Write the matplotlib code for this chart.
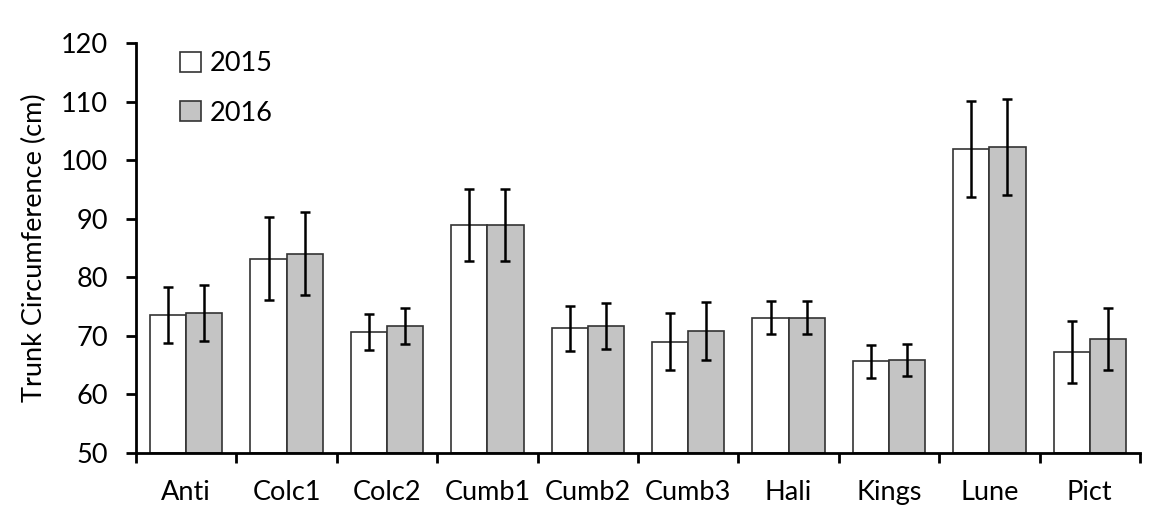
import matplotlib
matplotlib.use("Agg")
import matplotlib.pyplot as plt
import numpy as np

categories = ["Anti", "Colc1", "Colc2", "Cumb1", "Cumb2", "Cumb3", "Hali", "Kings", "Lune", "Pict"]
values_2015 = [73.5, 83.2, 70.7, 88.9, 71.25, 69.0, 73.1, 65.6, 102.0, 67.3]
values_2016 = [73.9, 84.0, 71.65, 88.9, 71.7, 70.8, 73.1, 65.8, 102.2, 69.4]
err_2015 = [4.8, 7.1, 3.1, 6.2, 3.9, 4.9, 2.85, 2.8, 8.2, 5.3]
err_2016 = [4.8, 7.1, 3.1, 6.2, 3.9, 5.0, 2.85, 2.75, 8.2, 5.3]
series_labels = ["2015", "2016"]
y_ticks = [50, 60, 70, 80, 90, 100, 110, 120]

plt.rcParams['font.family'] = ['Lato', 'DejaVu Sans']
FS = 19.5

fig = plt.figure(figsize=(11.49, 5.12), dpi=100)
ax = fig.add_axes([136/1149, 1-452.7/512, (1140-136)/1149, (452.7-43.3)/512])

x = np.arange(len(categories))
w = 0.36
b1 = ax.bar(x - w/2, np.array(values_2015) - 50, w, bottom=50, color="white",
            edgecolor="#333333", linewidth=1.2, label=series_labels[0], zorder=2)
b2 = ax.bar(x + w/2, np.array(values_2016) - 50, w, bottom=50, color="#c4c4c4",
            edgecolor="#333333", linewidth=1.2, label=series_labels[1], zorder=2)
ax.errorbar(x - w/2, values_2015, yerr=err_2015, fmt="none", ecolor="black",
            elinewidth=1.8, capsize=3.5, capthick=1.8, zorder=3)
ax.errorbar(x + w/2, values_2016, yerr=err_2016, fmt="none", ecolor="black",
            elinewidth=1.8, capsize=3.5, capthick=1.8, zorder=3)

ax.set_xlim(-0.5, len(categories) - 0.5)
ax.set_ylim(50, 120)
ax.set_yticks(y_ticks)
ax.set_yticklabels([str(t) for t in y_ticks], fontsize=FS)

# category labels at centers, ticks at boundaries
ax.set_xticks(x)
ax.set_xticklabels(categories, fontsize=FS)
ax.tick_params(axis="x", which="major", length=0, pad=20)
ax.set_xticks(np.arange(len(categories) + 1) - 0.5, minor=True)
ax.tick_params(axis="x", which="minor", length=7, width=2, direction="out")
ax.tick_params(axis="y", length=7, width=2, direction="out", pad=13)

for s in ["top", "right"]:
    ax.spines[s].set_visible(False)
for s in ["left", "bottom"]:
    ax.spines[s].set_linewidth(2)

ax.set_ylabel("Trunk Circumference (cm)", fontsize=FS, labelpad=10)

leg = ax.legend(handles=[b1, b2], loc="upper left", bbox_to_anchor=(0.02, 1.04),
                frameon=False, fontsize=FS, handlelength=0.75, handleheight=0.75,
                handletextpad=0.35, labelspacing=0.9)

fig.savefig("out.png", dpi=100)
